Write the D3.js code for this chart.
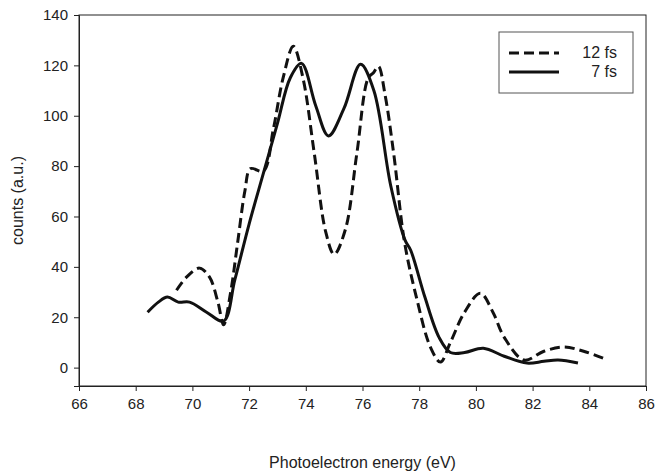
<!DOCTYPE html>
<html>
<head>
<meta charset="utf-8">
<script src="https://cdn.jsdelivr.net/npm/d3@7"></script>
<style>
  body { margin: 0; background: #fff; }
  text { font-family: "Liberation Sans", Arial, sans-serif; fill: #222; }
</style>
</head>
<body>
<div id="chart"></div>
<script>
// 12 fs pulse (dashed)
const energy12 = [69.44, 69.8, 70.25, 70.6, 70.9, 71.1, 71.35, 71.6, 71.85, 72.05, 72.5, 72.86, 73.2, 73.56, 73.9, 74.3, 74.7, 75.0, 75.4, 75.8, 76.2, 76.38, 76.56, 76.8, 77.1, 77.48, 77.9, 78.4, 78.75, 79.1, 79.6, 80.16, 80.6, 81.0, 81.7, 82.4, 83.1, 83.8, 84.57];
const counts12 = [30.7, 36, 39.5, 36, 26, 17, 30, 50, 70, 79, 78, 95, 115, 127.6, 115, 85, 54, 45, 55, 85, 115, 117, 119.6, 108, 85, 50, 28, 8, 2.2, 10, 22, 29.5, 22, 12, 3, 6.5, 8.2, 6.5, 3.4];
// 7 fs pulse (solid)
const energy7 = [68.42, 68.8, 69.12, 69.5, 69.9, 70.5, 71.1, 71.5, 72.0, 72.5, 73.0, 73.45, 73.85, 74.35, 74.8, 75.35, 75.93, 76.4, 77.0, 77.5, 77.7, 78.2, 78.7, 79.1, 79.6, 80.26, 81.0, 81.8, 82.4, 82.9, 83.6];
const counts7 = [22, 26, 28, 26, 26, 22, 18.5, 35, 57, 77, 97, 115, 120.8, 104, 92, 103, 120.4, 110, 72, 50.6, 46.6, 28, 12, 6, 6, 7.7, 4.5, 1.8, 2.5, 3, 1.8];

const xTicks = d3.range(66, 87, 2);
const yTicks = d3.range(0, 141, 20);
const seriesNames = ["12 fs", "7 fs"];

const width = 655, height = 476;
const margin = { left: 79, right: 9, top: 15, bottom: 90 };

const svg = d3.select("#chart").append("svg")
    .attr("width", width)
    .attr("height", height);

const x = d3.scaleLinear().domain([66, 86]).range([margin.left, width - margin.right]);
const y = d3.scaleLinear().domain([-7.3, 140]).range([height - margin.bottom, margin.top]);

// frame
svg.append("rect")
    .attr("x", x(66)).attr("y", y(140))
    .attr("width", x(86) - x(66)).attr("height", y(-7.3) - y(140))
    .attr("fill", "none").attr("stroke", "#222").attr("stroke-width", 1);

const xAxis = svg.append("g")
    .attr("transform", `translate(0,${y(-7.3)})`)
    .call(d3.axisBottom(x).tickValues(xTicks).tickSize(5).tickPadding(7));
xAxis.selectAll("text").attr("font-size", "15px").style("font-family", "Liberation Sans, Arial, sans-serif");

const yAxis = svg.append("g")
    .attr("transform", `translate(${x(66)},0)`)
    .call(d3.axisLeft(y).tickValues(yTicks).tickSize(5).tickPadding(6));
yAxis.selectAll("text").attr("font-size", "15px").style("font-family", "Liberation Sans, Arial, sans-serif");

svg.selectAll(".domain").attr("stroke", "#222");
svg.selectAll(".tick line").attr("stroke", "#222");

svg.append("text")
    .attr("x", (x(66) + x(86)) / 2)
    .attr("y", 468)
    .attr("text-anchor", "middle")
    .attr("font-size", "16px")
    .text("Photoelectron energy (eV)");

svg.append("text")
    .attr("transform", `translate(23,${(y(-7.3) + y(140)) / 2}) rotate(-90)`)
    .attr("text-anchor", "middle")
    .attr("font-size", "16px")
    .text("counts (a.u.)");

const line = d3.line()
    .x(d => x(d[0]))
    .y(d => y(d[1]))
    .curve(d3.curveCatmullRom.alpha(0.5));

svg.append("path")
    .datum(d3.zip(energy12, counts12))
    .attr("d", line)
    .attr("fill", "none")
    .attr("stroke", "#111")
    .attr("stroke-width", 3)
    .attr("stroke-dasharray", "10,5");

svg.append("path")
    .datum(d3.zip(energy7, counts7))
    .attr("d", line)
    .attr("fill", "none")
    .attr("stroke", "#111")
    .attr("stroke-width", 3);

// legend
const legend = svg.append("g").attr("transform", "translate(499,32)");
legend.append("rect")
    .attr("width", 134).attr("height", 61)
    .attr("fill", "#fff").attr("stroke", "#555").attr("stroke-width", 1);

legend.selectAll("line.key")
    .data(seriesNames)
    .enter().append("line")
    .attr("class", "key")
    .attr("x1", 10).attr("x2", 60)
    .attr("y1", (d, i) => 21 + i * 19)
    .attr("y2", (d, i) => 21 + i * 19)
    .attr("stroke", "#111")
    .attr("stroke-width", 3)
    .attr("stroke-dasharray", (d, i) => i === 0 ? "10,5" : null);

legend.selectAll("text.lbl")
    .data(seriesNames)
    .enter().append("text")
    .attr("class", "lbl")
    .attr("x", 118)
    .attr("y", (d, i) => 26 + i * 19)
    .attr("text-anchor", "end")
    .attr("font-size", "16px")
    .text(d => d);
</script>
</body>
</html>
